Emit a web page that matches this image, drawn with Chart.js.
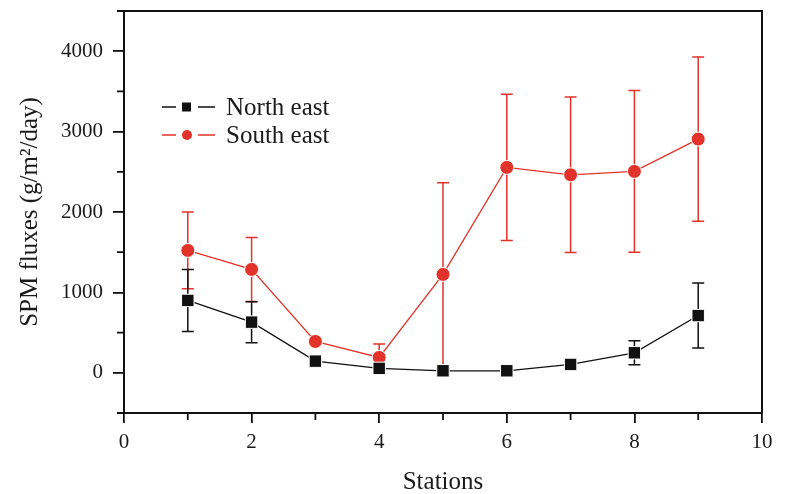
<!DOCTYPE html>
<html>
<head>
<meta charset="utf-8">
<script src="https://cdn.jsdelivr.net/npm/chart.js@4/dist/chart.umd.min.js"></script>
<style>
  html, body { margin: 0; padding: 0; background: #fff; }
  #wrap { width: 786px; height: 494px; }
</style>
</head>
<body>
<div id="wrap"><canvas id="grafico"></canvas></div>
<script>
const stations = [1, 2, 3, 4, 5, 6, 7, 8, 9];
const northEast = [900, 630, 145, 55, 25, 25, 104, 249, 712];
const northEastErr = [385, 255, 0, 0, 0, 0, 0, 150, 404];
const southEast = [1522, 1286, 390, 191, 1224, 2555, 2463, 2505, 2907];
const southEastErr = [477, 398, 0, 166, 1140, 910, 966, 1005, 1022];
const xTicks = [0, 2, 4, 6, 8, 10];
const xMinor = [1, 3, 5, 7, 9];
const yTicks = [0, 1000, 2000, 3000, 4000];
const yMinor = [-500, 500, 1500, 2500, 3500, 4500];

const corPreta = '#111111';
const corVermelha = '#e2332a';
const fonte = '"Liberation Serif", "Times New Roman", serif';

function pontos(valores) {
  return stations.map((s, i) => ({ x: s, y: valores[i] }));
}

const errorBars = {
  id: 'errorBars',
  beforeDatasetsDraw(chart) {
    const ctx = chart.ctx;
    const xs = chart.scales.x;
    const ys = chart.scales.y;
    const series = [
      { vals: southEast, err: southEastErr, cor: corVermelha },
      { vals: northEast, err: northEastErr, cor: corPreta },
    ];
    ctx.save();
    series.forEach((s) => {
      ctx.strokeStyle = s.cor;
      ctx.lineWidth = 1.5;
      stations.forEach((st, i) => {
        if (!s.err[i]) return;
        const px = xs.getPixelForValue(st);
        const top = ys.getPixelForValue(s.vals[i] + s.err[i]);
        const bot = ys.getPixelForValue(s.vals[i] - s.err[i]);
        ctx.beginPath();
        ctx.moveTo(px, top);
        ctx.lineTo(px, bot);
        ctx.moveTo(px - 6, top);
        ctx.lineTo(px + 6, top);
        ctx.moveTo(px - 6, bot);
        ctx.lineTo(px + 6, bot);
        ctx.stroke();
      });
    });
    ctx.restore();
  },
};

const moldura = {
  id: 'moldura',
  afterDraw(chart) {
    const ctx = chart.ctx;
    const a = chart.chartArea;
    const xs = chart.scales.x;
    const ys = chart.scales.y;
    ctx.save();
    ctx.strokeStyle = corPreta;
    ctx.lineWidth = 2;
    ctx.beginPath();
    ctx.moveTo(a.left, a.top);
    ctx.lineTo(a.right, a.top);
    ctx.lineTo(a.right, a.bottom);
    ctx.stroke();
    ctx.lineWidth = 1.8;
    ctx.beginPath();
    xMinor.forEach((v) => {
      const px = xs.getPixelForValue(v);
      ctx.moveTo(px, a.bottom);
      ctx.lineTo(px, a.bottom + 7);
    });
    yMinor.forEach((v) => {
      const py = ys.getPixelForValue(v);
      ctx.moveTo(a.left, py);
      ctx.lineTo(a.left - 7, py);
    });
    ctx.stroke();

    // legenda
    const itens = [
      { nome: 'North east', cor: corPreta, forma: 'rect', y: 107 },
      { nome: 'South east', cor: corVermelha, forma: 'circle', y: 135 },
    ];
    ctx.font = '25px ' + fonte;
    ctx.textBaseline = 'middle';
    itens.forEach((it) => {
      ctx.strokeStyle = it.cor;
      ctx.fillStyle = it.cor;
      ctx.lineWidth = 1.3;
      ctx.beginPath();
      ctx.moveTo(162, it.y);
      ctx.lineTo(176, it.y);
      ctx.moveTo(198, it.y);
      ctx.lineTo(215, it.y);
      ctx.stroke();
      if (it.forma === 'rect') {
        ctx.fillRect(182, it.y - 4.5, 9, 9);
      } else {
        ctx.beginPath();
        ctx.arc(187, it.y, 5, 0, Math.PI * 2);
        ctx.fill();
      }
      ctx.fillStyle = '#1a1a1a';
      ctx.fillText(it.nome, 226, it.y + 1);
    });
    ctx.restore();
  },
};

new Chart(document.getElementById('grafico'), {
  type: 'line',
  data: {
    datasets: [
      {
        label: 'North east',
        data: pontos(northEast),
        borderColor: corPreta,
        backgroundColor: corPreta,
        borderWidth: 1.3,
        pointStyle: 'rect',
        pointRadius: 8.8,
        pointBorderColor: '#ffffff',
        pointBorderWidth: 1,
      },
      {
        label: 'South east',
        data: pontos(southEast),
        borderColor: corVermelha,
        backgroundColor: corVermelha,
        borderWidth: 1.3,
        pointStyle: 'circle',
        pointRadius: 7,
        pointBorderColor: '#ffffff',
        pointBorderWidth: 1,
      },
    ],
  },
  options: {
    responsive: true,
    maintainAspectRatio: false,
    animation: false,
    layout: { padding: { left: 0, right: 24, top: 11, bottom: 0 } },
    plugins: {
      legend: { display: false },
      tooltip: { enabled: false },
    },
    scales: {
      x: {
        type: 'linear',
        min: 0,
        max: 10,
        afterBuildTicks: (scale) => {
          scale.ticks = xTicks.map((v) => ({ value: v }));
        },
        afterFit: (scale) => {
          scale.height = 81;
          scale.paddingLeft = 0;
          scale.paddingRight = 0;
        },
        border: { display: true, color: corPreta, width: 2 },
        grid: {
          drawOnChartArea: false,
          drawTicks: true,
          tickLength: 10,
          tickColor: corPreta,
          lineWidth: 1.8,
        },
        ticks: {
          color: '#1a1a1a',
          font: { family: fonte, size: 21 },
          padding: 7,
          maxRotation: 0,
          callback: (v) => String(v),
        },
        title: {
          display: true,
          text: 'Stations',
          color: '#1a1a1a',
          font: { family: fonte, size: 25 },
          padding: { top: 0, bottom: -3 },
        },
      },
      y: {
        min: -500,
        max: 4500,
        afterBuildTicks: (scale) => {
          scale.ticks = yTicks.map((v) => ({ value: v }));
        },
        afterFit: (scale) => {
          scale.width = 124;
          scale.paddingTop = 0;
          scale.paddingBottom = 0;
        },
        border: { display: true, color: corPreta, width: 2 },
        grid: {
          drawOnChartArea: false,
          drawTicks: true,
          tickLength: 11,
          tickColor: corPreta,
          lineWidth: 1.8,
        },
        ticks: {
          color: '#1a1a1a',
          font: { family: fonte, size: 21 },
          padding: 10,
          callback: (v) => String(v),
        },
        title: {
          display: true,
          text: 'SPM fluxes (g/m²/day)',
          color: '#1a1a1a',
          font: { family: fonte, size: 25 },
          padding: { top: 15, bottom: 0 },
        },
      },
    },
  },
  plugins: [errorBars, moldura],
});
</script>
</body>
</html>
